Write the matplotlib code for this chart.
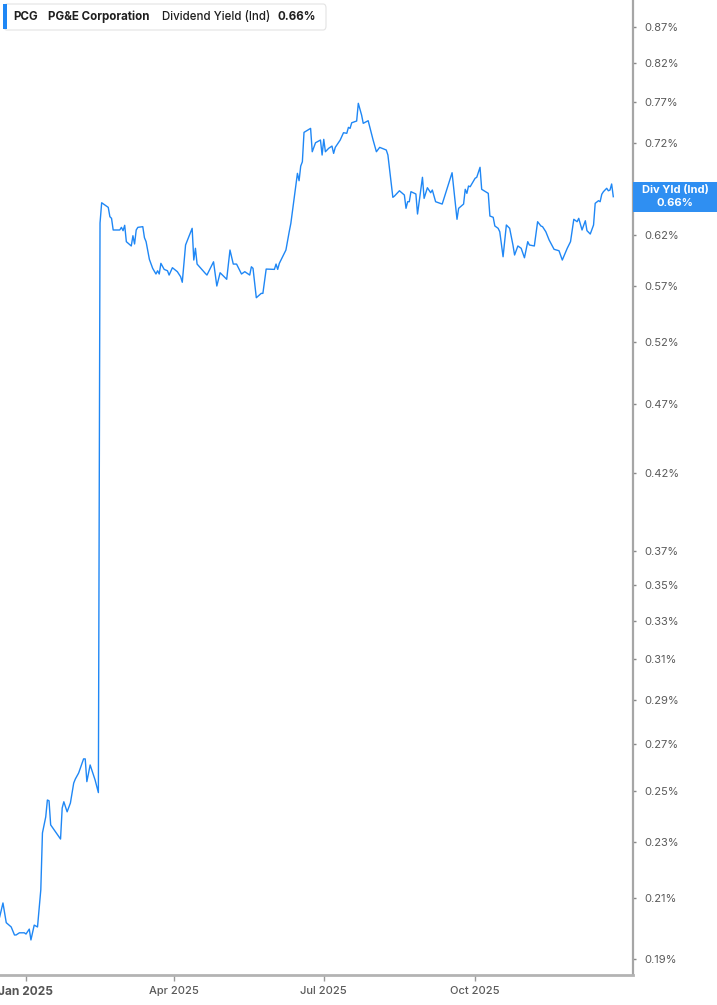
import matplotlib
matplotlib.use("Agg")
import matplotlib.pyplot as plt
import matplotlib.dates as mdates
from matplotlib.patches import FancyBboxPatch, Rectangle
from matplotlib.ticker import FixedLocator, NullLocator
import numpy as np
import pandas as pd

plt.rcParams['font.family'] = ['Inter', 'DejaVu Sans']

# ---------------- data ----------------
base_date = "2025-01-01"
days_from_base = [
    -16, -14, -12, -9, -7, -6, -4, -1, 0, 2, 3, 5, 7, 9, 10, 12, 13, 14, 15, 21,
    22, 23, 25, 27, 29, 30, 32, 35, 36, 37, 39, 42, 44, 45, 46, 50, 51, 52, 53, 57,
    58, 59, 60, 61, 64, 65, 66, 67, 68, 71, 72, 73, 75, 77, 79, 80, 81, 82, 84, 86,
    87, 89, 92, 94, 95, 97, 101, 102, 103, 104, 109, 110, 114, 116, 118, 122, 124, 126, 128, 131,
    133, 136, 137, 138, 140, 143, 144, 146, 151, 152, 153, 154, 158, 160, 161, 165, 166, 167, 168, 169,
    173, 174, 176, 179, 180, 181, 182, 184, 186, 187, 188, 191, 193, 195, 196, 197, 198, 201, 202, 204,
    205, 208, 210, 211, 213, 215, 219, 220, 223, 224, 227, 230, 231, 232, 233, 234, 237, 238, 241, 242,
    244, 246, 247, 249, 253, 259, 262, 263, 266, 267, 268, 269, 270, 273, 274, 276, 277, 281, 282, 284,
    285, 287, 288, 290, 292, 294, 296, 297, 299, 301, 303, 305, 306, 309, 311, 313, 314, 316, 318, 321,
    324, 326, 329, 331, 333, 335, 336, 338, 340, 341, 343, 345, 346, 348, 349, 350, 351, 353, 354, 355,
    356, 357,
]
yield_pct = [
    0.2035, 0.2082, 0.2016, 0.2002, 0.1976, 0.1976, 0.1983, 0.1983, 0.1979, 0.1995,
    0.1960, 0.2008, 0.2002, 0.2127, 0.2334, 0.2396, 0.2463, 0.2460, 0.2365, 0.2311,
    0.2431, 0.2456, 0.2416, 0.2451, 0.2532, 0.2549, 0.2574, 0.2634, 0.2634, 0.2538,
    0.2608, 0.2545, 0.2493, 0.6317, 0.6530, 0.6481, 0.6383, 0.6366, 0.6246, 0.6246,
    0.6273, 0.6239, 0.6294, 0.6128, 0.6085, 0.6188, 0.6105, 0.6246, 0.6273, 0.6280,
    0.6168, 0.6128, 0.5954, 0.5867, 0.5813, 0.5844, 0.5813, 0.5915, 0.5857, 0.5844,
    0.5803, 0.5873, 0.5835, 0.5787, 0.5735, 0.6095, 0.6263, 0.5947, 0.6062, 0.5908,
    0.5819, 0.5803, 0.5930, 0.5700, 0.5825, 0.5763, 0.6045, 0.5908, 0.5908, 0.5813,
    0.5835, 0.5803, 0.5882, 0.5867, 0.5592, 0.5632, 0.5632, 0.5860, 0.5857, 0.5908,
    0.5857, 0.5915, 0.6045, 0.6228, 0.6314, 0.6851, 0.6769, 0.6933, 0.6982, 0.7325,
    0.7373, 0.7097, 0.7202, 0.7234, 0.7059, 0.7242, 0.7097, 0.7137, 0.7163, 0.7078,
    0.7148, 0.7234, 0.7321, 0.7314, 0.7385, 0.7373, 0.7441, 0.7462, 0.7681, 0.7535,
    0.7434, 0.7466, 0.7313, 0.7234, 0.7097, 0.7148, 0.7117, 0.7059, 0.6588, 0.6602,
    0.6659, 0.6613, 0.6471, 0.6541, 0.6541, 0.6649, 0.6624, 0.6411, 0.6807, 0.6577,
    0.6692, 0.6638, 0.6667, 0.6541, 0.6516, 0.6858, 0.6356, 0.6471, 0.6516, 0.6675,
    0.6631, 0.6711, 0.6703, 0.6796, 0.6807, 0.6919, 0.6675, 0.6631, 0.6390, 0.6377,
    0.6287, 0.6263, 0.6228, 0.5979, 0.6297, 0.6263, 0.6095, 0.5996, 0.6085, 0.6062,
    0.5969, 0.6128, 0.6095, 0.6085, 0.6331, 0.6287, 0.6280, 0.6228, 0.6145, 0.6052,
    0.6038, 0.5947, 0.6062, 0.6128, 0.6356, 0.6331, 0.6366, 0.6246, 0.6341, 0.6239,
    0.6205, 0.6297, 0.6524, 0.6552, 0.6541, 0.6621, 0.6649, 0.6686, 0.6659, 0.6667,
    0.6733, 0.6595,
]
ytick_values = [0.19, 0.21, 0.23, 0.25, 0.27, 0.29, 0.31, 0.33, 0.35, 0.37,
                0.42, 0.47, 0.52, 0.57, 0.62, 0.67, 0.72, 0.77, 0.82, 0.87]
xtick_dates = ["2025-01-01", "2025-04-01", "2025-07-01", "2025-10-01"]
xtick_labels = ["Jan 2025", "Apr 2025", "Jul 2025", "Oct 2025"]
ticker_sym = "PCG"
company = "PG&E Corporation"
metric = "Dividend Yield (Ind)"
last_label = "Div Yld (Ind)"
last_value = 0.66

# ---------------- figure ----------------
W, H = 717, 1005
fig = plt.figure(figsize=(W / 100, H / 100), dpi=100)
fig.patch.set_facecolor("white")

def fx(x):
    return x / W

def fy(y):
    return 1 - y / H

ax_right_px = 632.7
ax_bottom_px = 974.5
ax = fig.add_axes([0, 1 - ax_bottom_px / H, ax_right_px / W, ax_bottom_px / H])

base = pd.Timestamp(base_date)
dates = base + pd.to_timedelta(days_from_base, unit="D")
line_color = "#1f87f5"
ax.plot(dates, yield_pct, color=line_color, lw=1.0, solid_joinstyle="round")

ax.set_yscale("log")
ax.set_ylim(0.18525, 0.9092)
ax.set_xlim(base - pd.Timedelta(days=15.8), base + pd.Timedelta(days=368.8))

# spines
for s in ["top", "left"]:
    ax.spines[s].set_visible(False)
ax.spines["right"].set_color("#a6a6a6")
ax.spines["right"].set_linewidth(1.6)
ax.spines["bottom"].set_color("#b3b3b3")
ax.spines["bottom"].set_linewidth(2.0)

# y ticks (right)
ax.yaxis.tick_right()
ax.yaxis.set_major_locator(FixedLocator(ytick_values))
ax.yaxis.set_minor_locator(NullLocator())
ax.set_yticklabels([f"{v:.2f}%" for v in ytick_values])
ax.tick_params(axis="y", which="major", direction="out", length=2.5, width=1,
               color="#888888", pad=6, labelsize=8, labelcolor="#5a5a5a")

# x ticks
ax.xaxis.set_major_locator(FixedLocator(mdates.date2num(pd.to_datetime(xtick_dates))))
ax.xaxis.set_minor_locator(NullLocator())
ax.set_xticklabels(xtick_labels)
ax.tick_params(axis="x", which="major", direction="out", length=4, width=1,
               color="#999999", pad=4, labelsize=8, labelcolor="#5a5a5a")
for i, lab in enumerate(ax.get_xticklabels()):
    if i == 0:
        lab.set_fontsize(8.6)
        lab.set_fontweight("bold")
        lab.set_color("#555555")
    else:
        lab.set_fontweight("medium")

# header legend box
hdr = FancyBboxPatch((fx(4), fy(30)), fx(322), 26 / H,
                     boxstyle="round,pad=0,rounding_size=0.004",
                     transform=fig.transFigure, facecolor="white",
                     edgecolor="#e3e3e3", lw=0.8, zorder=5)
fig.patches.append(hdr)
bar = Rectangle((fx(3), fy(29.5)), fx(3.5), 25 / H, transform=fig.transFigure,
                facecolor=line_color, edgecolor="none", zorder=6)
fig.patches.append(bar)
ty = fy(17)
hdr_fs = 8.3
fig.text(fx(13), ty, ticker_sym, fontsize=hdr_fs, fontweight="bold", color="#1f1f1f",
         va="center", ha="left", zorder=7)
fig.text(fx(48), ty, company, fontsize=hdr_fs, fontweight="bold", color="#1f1f1f",
         va="center", ha="left", zorder=7)
fig.text(fx(162), ty, metric, fontsize=hdr_fs, fontweight="medium", color="#1f1f1f",
         va="center", ha="left", zorder=7)
fig.text(fx(278), ty, f"{last_value:.2f}%", fontsize=hdr_fs, fontweight="bold",
         color="#1f1f1f", va="center", ha="left", zorder=7)

# last value box on right axis
lb = Rectangle((fx(633), fy(212)), fx(84), 30 / H, transform=fig.transFigure,
               facecolor="#2f8ff2", edgecolor="none", zorder=8)
fig.patches.append(lb)
fig.text(fx(675), fy(190.5), last_label, fontsize=8, fontweight="bold", color="white",
         ha="center", va="center", zorder=9)
fig.text(fx(675), fy(203), f"{last_value:.2f}%", fontsize=8, fontweight="bold",
         color="white", ha="center", va="center", zorder=9)

fig.savefig("out.png", dpi=100, facecolor="white")
